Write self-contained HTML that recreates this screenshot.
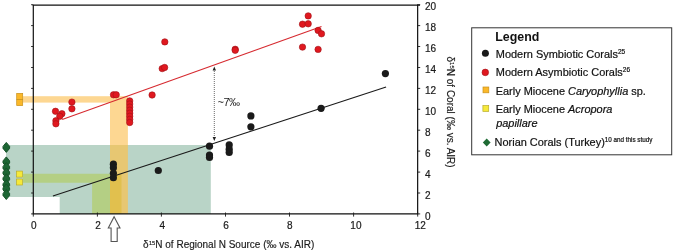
<!DOCTYPE html>
<html><head><meta charset="utf-8">
<style>
html,body{margin:0;padding:0;background:#fff;}
svg{display:block;font-family:"Liberation Sans",sans-serif;}
</style></head>
<body>
<svg width="675" height="252" viewBox="0 0 675 252">
<rect width="675" height="252" fill="#fff"/>
<path d="M6 144.9H210.8V214H59.7V197H6Z" fill="#b9d4c7"/>
<rect x="23" y="96.2" width="88" height="6.4" fill="#fdd792"/>
<rect x="110" y="96.2" width="17.9" height="48.8" fill="#fdd792"/>
<path d="M23 173.8H110V214H92.1V182.8H23Z" fill="#b4cf84"/>
<rect x="110" y="145" width="17.9" height="69" fill="#e7c772"/>
<rect x="110" y="173.8" width="11.5" height="40.2" fill="#e1c04e"/>
<path d="M33.3 5.1V213.9H417.65V5.1" fill="none" stroke="#111" stroke-width="1.2"/><path d="M32.7 5.1H420" fill="none" stroke="#111" stroke-width="1.4"/>
<path d="M31.1 213.9H33.3M417 213.9H420.2M31.1 193.0H33.3M417 193.0H420.2M31.1 172.1H33.3M417 172.1H420.2M31.1 151.1H33.3M417 151.1H420.2M31.1 130.2H33.3M417 130.2H420.2M31.1 109.3H33.3M417 109.3H420.2M31.1 88.4H33.3M417 88.4H420.2M31.1 67.5H33.3M417 67.5H420.2M31.1 46.5H33.3M417 46.5H420.2M31.1 25.6H33.3M417 25.6H420.2M31.1 4.7H33.3M417 4.7H420.2M33.3 212.5V216.6M97.4 212.5V216.6M161.4 212.5V216.6M225.5 212.5V216.6M289.5 212.5V216.6M353.6 212.5V216.6M417.7 212.5V216.6" stroke="#1a1a1a" stroke-width="0.9" fill="none"/>
<line x1="62.2" y1="119.6" x2="321.5" y2="26.4" stroke="#d62a30" stroke-width="1.1"/>
<line x1="52.9" y1="196" x2="386.1" y2="86.9" stroke="#1a1a1a" stroke-width="1.1"/>
<line x1="214.3" y1="69" x2="214.3" y2="139" stroke="#444" stroke-width="0.8" stroke-dasharray="1 1"/>
<path d="M214.3 66.5L212.6 70.5H216Z M214.3 141L212.6 137H216Z" fill="#222"/>
<text x="217.5" y="106.3" font-size="11" fill="#222" letter-spacing="-0.5">~7‰</text>
<g fill="#e0181f" stroke="#a01217" stroke-width="0.6">
<circle cx="55.5" cy="111.3" r="3.2"/>
<circle cx="61.9" cy="113.7" r="3.2"/>
<circle cx="59.8" cy="116.3" r="3.2"/>
<circle cx="55.9" cy="120.8" r="3.2"/>
<circle cx="55.9" cy="123.8" r="3.2"/>
<circle cx="71.9" cy="102.1" r="3.2"/>
<circle cx="71.9" cy="108.8" r="3.2"/>
<circle cx="113.5" cy="94.8" r="3.2"/>
<circle cx="116.2" cy="94.8" r="3.2"/>
<circle cx="152.1" cy="95.0" r="3.2"/>
<circle cx="162.2" cy="68.6" r="3.2"/>
<circle cx="164.6" cy="67.5" r="3.2"/>
<circle cx="164.8" cy="41.9" r="3.2"/>
<circle cx="235.2" cy="49.3" r="3.2"/>
<circle cx="235.2" cy="50.3" r="3.2"/>
<circle cx="308.2" cy="15.9" r="3.2"/>
<circle cx="302.5" cy="24.2" r="3.2"/>
<circle cx="308.2" cy="23.8" r="3.2"/>
<circle cx="318.1" cy="30.4" r="3.2"/>
<circle cx="321.5" cy="33.8" r="3.2"/>
<circle cx="302.5" cy="47.1" r="3.2"/>
<circle cx="318.1" cy="49.4" r="3.2"/>
<circle cx="129.7" cy="100.9" r="3.2"/>
<circle cx="129.7" cy="104.0" r="3.2"/>
<circle cx="129.7" cy="107.1" r="3.2"/>
<circle cx="129.7" cy="110.2" r="3.2"/>
<circle cx="129.7" cy="113.2" r="3.2"/>
<circle cx="129.7" cy="116.3" r="3.2"/>
<circle cx="129.7" cy="119.4" r="3.2"/>
<circle cx="129.7" cy="122.5" r="3.2"/>
</g><g fill="#1a1a1a">
<circle cx="113.4" cy="164.2" r="3.6"/>
<circle cx="113.4" cy="167.8" r="3.6"/>
<circle cx="113.4" cy="173.3" r="3.6"/>
<circle cx="113.4" cy="177.7" r="3.6"/>
<circle cx="158.3" cy="170.5" r="3.6"/>
<circle cx="209.5" cy="146.2" r="3.6"/>
<circle cx="209.5" cy="155.0" r="3.6"/>
<circle cx="209.5" cy="157.5" r="3.6"/>
<circle cx="229.2" cy="144.9" r="3.6"/>
<circle cx="229.2" cy="149.2" r="3.6"/>
<circle cx="229.2" cy="152.4" r="3.6"/>
<circle cx="250.9" cy="115.9" r="3.6"/>
<circle cx="250.9" cy="126.8" r="3.6"/>
<circle cx="321.1" cy="108.3" r="3.6"/>
<circle cx="385.4" cy="73.6" r="3.6"/>
</g>
<g fill="#fbb829" stroke="#c8901a" stroke-width="0.7"><rect x="16.7" y="93.4" width="6" height="6"/><rect x="16.7" y="99.6" width="6" height="6"/></g>
<g fill="#f6e93a" stroke="#b9ac2a" stroke-width="0.7"><rect x="16.5" y="171.1" width="6" height="6"/><rect x="16.5" y="179" width="6" height="6"/></g>
<g fill="#1d6634" stroke="#175229" stroke-width="1" stroke-linejoin="round">
<path d="M6.3 142.4L9.6 146.4V148.4L6.3 152.4L3 148.4V146.4Z"/>
<path d="M6.3 156.9L9.6 160.9V162.9L6.3 166.9L3 162.9V160.9Z"/>
<path d="M6.3 162.5L9.6 166.5V168.5L6.3 172.5L3 168.5V166.5Z"/>
<path d="M6.3 167.9L9.6 171.9V173.9L6.3 177.9L3 173.9V171.9Z"/>
<path d="M6.3 173.8L9.6 177.8V179.8L6.3 183.8L3 179.8V177.8Z"/>
<path d="M6.3 179.8L9.6 183.8V185.8L6.3 189.8L3 185.8V183.8Z"/>
<path d="M6.3 183.9L9.6 187.9V189.9L6.3 193.9L3 189.9V187.9Z"/>
<path d="M6.3 189.5L9.6 193.5V195.5L6.3 199.5L3 195.5V193.5Z"/>
</g>
<path d="M114.1 216.7L120 228H117.2V241.5H111.1V228H108.3Z" fill="#fff" stroke="#555" stroke-width="1.1"/>
<g font-size="10" fill="#1a1a1a" stroke="#1a1a1a" stroke-width="0.2">
<text x="33.9" y="228.5" text-anchor="middle">0</text>
<text x="98" y="228.5" text-anchor="middle">2</text>
<text x="162.2" y="228.5" text-anchor="middle">4</text>
<text x="226.1" y="228.5" text-anchor="middle">6</text>
<text x="289.9" y="228.5" text-anchor="middle">8</text>
<text x="355.9" y="228.5" text-anchor="middle">10</text>
<text x="420.3" y="228.5" text-anchor="middle">12</text>
<text x="425" y="219.5">0</text>
<text x="425" y="198.6">2</text>
<text x="425" y="177.7">4</text>
<text x="425" y="156.7">6</text>
<text x="425" y="135.8">8</text>
<text x="425" y="114.9">10</text>
<text x="425" y="94.0">12</text>
<text x="425" y="73.1">14</text>
<text x="425" y="52.1">16</text>
<text x="425" y="31.2">18</text>
<text x="425" y="10.3">20</text>
</g>
<text x="143" y="248" font-size="10" fill="#1a1a1a" stroke="#1a1a1a" stroke-width="0.15">δ<tspan font-size="5.6" dy="-3.4" dx="0.3">15</tspan><tspan dy="3.4" dx="0.2">N of Regional N Source (‰ vs. AIR)</tspan></text>
<text transform="translate(446.8 56.5) rotate(90)" font-size="10" fill="#1a1a1a" stroke="#1a1a1a" stroke-width="0.15">δ<tspan font-size="6" dy="-3.5">15</tspan><tspan dy="3.5">N of Coral (‰ vs. AIR)</tspan></text>
<rect x="471.7" y="27.8" width="200" height="127" fill="#fff" stroke="#333" stroke-width="1"/>
<text x="495.3" y="41.3" font-size="12.4" font-weight="bold" fill="#111">Legend</text>
<circle cx="485.4" cy="53.3" r="3.5" fill="#1a1a1a"/>
<circle cx="485.3" cy="72.4" r="3.3" fill="#e0181f" stroke="#a01217" stroke-width="0.6"/>
<rect x="483" y="87" width="5.8" height="5.8" fill="#fbb829" stroke="#c8901a" stroke-width="0.7"/>
<rect x="482.9" y="105.6" width="5.8" height="5.8" fill="#f6e93a" stroke="#b9ac2a" stroke-width="0.7"/>
<path d="M486.7 138.6L490.6 142.5L486.7 146.4L482.8 142.5Z" fill="#1f6b34"/>
<g font-size="10.95" fill="#111" stroke="#111" stroke-width="0.2">
<text x="495.8" y="58.4">Modern Symbiotic Corals<tspan font-size="6.5" dy="-4.2">25</tspan></text>
<text x="495.8" y="76.3">Modern Asymbiotic Corals<tspan font-size="6.5" dy="-4.2">26</tspan></text>
<text x="495.7" y="94.6">Early Miocene <tspan font-style="italic">Caryophyllia</tspan> sp.</text>
<text x="495.7" y="113.4">Early Miocene <tspan font-style="italic">Acropora</tspan></text>
<text x="496.2" y="127" font-style="italic">papillare</text>
<text x="494.6" y="145.6">Norian Corals (Turkey)<tspan font-size="6.3" dy="-3.6">10 and this study</tspan></text>
</g>
</svg>
</body></html>
